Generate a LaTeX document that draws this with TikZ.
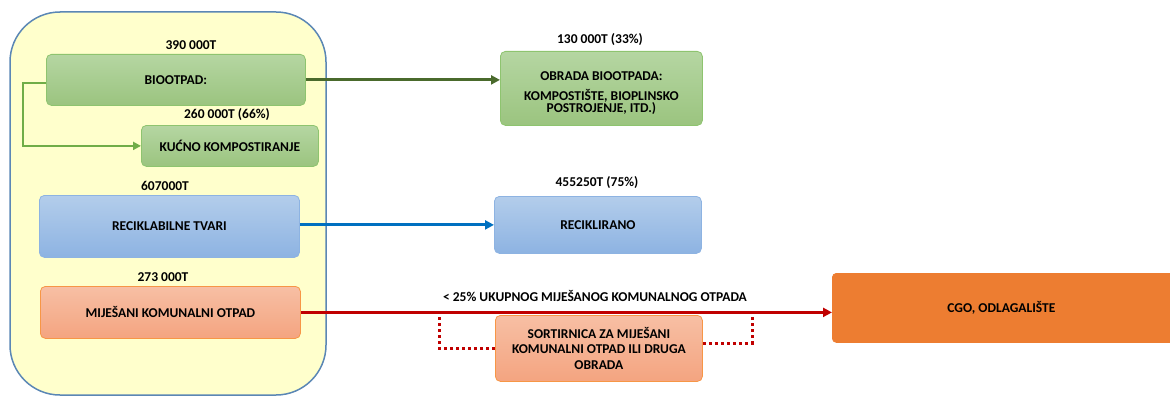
\documentclass[tikz,border=0pt]{standalone}
\usepackage{fontspec}
\setmainfont{Carlito}
\usetikzlibrary{arrows.meta}
\definecolor{cont}{HTML}{FFFFCC}
\definecolor{contb}{HTML}{5B87B5}
\definecolor{gtop}{HTML}{B5D6A2}
\definecolor{gbot}{HTML}{9BC47F}
\definecolor{gbord}{HTML}{8EC46F}
\definecolor{btop}{HTML}{B3CDEB}
\definecolor{bbot}{HTML}{8DB3E2}
\definecolor{bbord}{HTML}{8DB3E2}
\definecolor{otop}{HTML}{F7BFA4}
\definecolor{obot}{HTML}{F4A480}
\definecolor{obord}{HTML}{F79646}
\definecolor{cgo}{HTML}{ED7D31}
\definecolor{darkg}{HTML}{4A6A2C}
\definecolor{lightg}{HTML}{70AD47}
\definecolor{blu}{HTML}{0070C0}
\definecolor{redc}{HTML}{C00000}
\tikzset{
  x=1pt,y=-1pt,
  lbl/.style={font=\bfseries\fontsize{13.5}{14}\selectfont, inner sep=0pt, align=center},
  boxb/.style={rounded corners=5pt, line width=0.8pt, inner sep=0pt, font=\bfseries\fontsize{13.5}{15}\selectfont, align=center},
  gbox/.style={boxb, draw=gbord, top color=gtop, bottom color=gbot},
  bbox/.style={boxb, draw=bbord, top color=btop, bottom color=bbot},
  obox/.style={boxb, draw=obord, top color=otop, bottom color=obot},
  flow/.style={line width=3pt, -{Triangle[length=9pt,width=9pt]}},
}
\begin{document}
\begin{tikzpicture}
\useasboundingbox (0,0) rectangle (1170,396);
% container
\draw[contb, line width=1.5pt, fill=cont, rounded corners=50pt] (10,12) rectangle (326,395);
% boxes
\node[gbox, minimum width=259pt, minimum height=51pt, anchor=north west] (bio) at (46,54) {BIOOTPAD:};
\node[gbox, minimum width=177pt, minimum height=41pt, anchor=north west] (kuc) at (141,125) {KUĆNO KOMPOSTIRANJE};
\node[bbox, minimum width=260pt, minimum height=62pt, anchor=north west] (rec) at (39,195) {RECIKLABILNE TVARI};
\node[obox, minimum width=260pt, minimum height=52pt, anchor=north west] (mij) at (40,286) {MIJEŠANI KOMUNALNI OTPAD};
\node[gbox, minimum width=202pt, minimum height=74pt, anchor=north west] (obr) at (500,51) {};
\node[boxb, draw=none] (obrt) at ([yshift=-5pt]obr.center) {OBRADA BIOOTPADA:\\[5pt]KOMPOSTIŠTE, BIOPLINSKO\\[-3pt]POSTROJENJE, ITD.)};
\node[bbox, minimum width=207pt, minimum height=57pt, anchor=north west] (rcl) at (494,196) {RECIKLIRANO};
\node[obox, minimum width=207pt, minimum height=66pt, anchor=north west, font=\bfseries\fontsize{13.5}{15.5}\selectfont] (sort) at (495,315) {SORTIRNICA ZA MIJEŠANI\\KOMUNALNI OTPAD ILI DRUGA\\OBRADA};
\node[boxb, fill=cgo, draw=cgo, rounded corners=4pt, minimum width=345pt, minimum height=69pt, anchor=north west] (cgo) at (832,273) {\hspace*{-7pt}CGO, ODLAGALIŠTE};
% labels
\node[lbl] (l1) at (191,45) {390 000T};
\node[lbl] (l2) at (227,115) {260 000T (66\%)};
\node[lbl] (l3) at (165,186) {607000T};
\node[lbl] (l4) at (163,277) {273 000T};
\node[lbl] (l5) at (600,40) {130 000T (33\%)};
\node[lbl] (l6) at (597,183) {455250T (75\%)};
\node[lbl] (l7) at (595,296) {< 25\% UKUPNOG MIJEŠANOG KOMUNALNOG OTPADA};
% connectors
\draw[flow, darkg] (bio.east) -- (bio.east -| obr.west);
\draw[flow, blu] (rec.east |- rcl.west) -- (rcl.west);
\draw[flow, redc] (mij.east) -- (mij.east -| cgo.west);
\coordinate (ka) at (23,83);
\draw[lightg, line width=2pt, -{Triangle[length=8pt,width=8pt]}] (bio.west |- ka) -- (ka) |- (kuc.west);
\coordinate (d1) at (439,311);
\coordinate (d2) at (752,311);
\draw[redc, line width=3pt, dash pattern=on 3pt off 3pt] (d1) -- (439,348) -- (sort.west |- 0,348);
\draw[redc, line width=3pt, dash pattern=on 3pt off 3pt] (sort.east |- 0,343) -- (752,343) -- (d2);
\end{tikzpicture}
\end{document}
